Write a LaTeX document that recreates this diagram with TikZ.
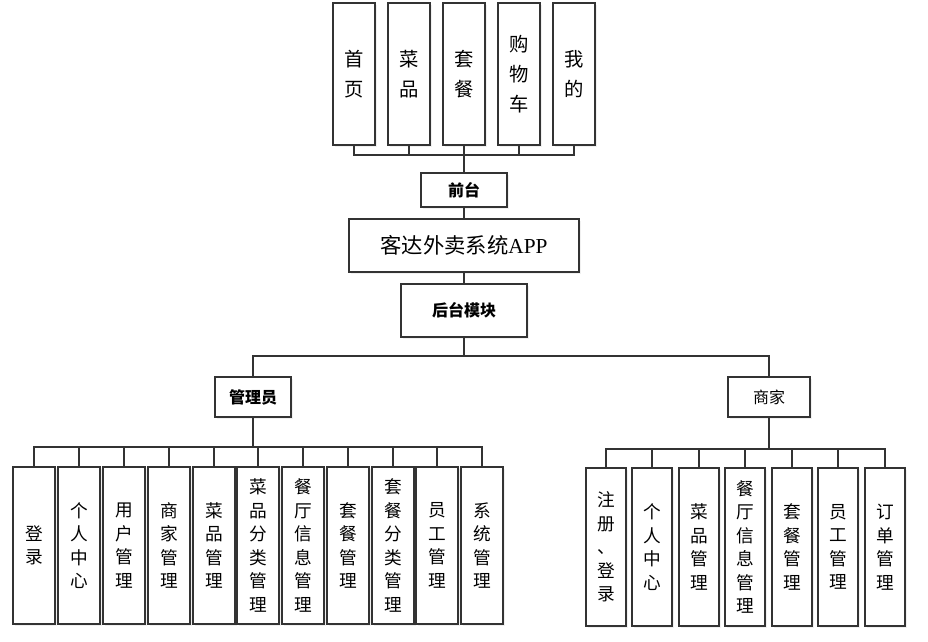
\documentclass[tikz,border=0pt]{standalone}
\usepackage{fontspec}
\newfontfamily\cjk{Noto Sans CJK SC}
\newfontfamily\lserif{Liberation Serif}
\usetikzlibrary{shadows}
\begin{document}
\begin{tikzpicture}[x=0.75pt,y=-0.75pt,
  box/.style={draw=black!80,line width=1pt,fill=white,inner sep=0pt,align=center,
    drop shadow={shadow xshift=1.2pt,shadow yshift=-1.2pt,opacity=0.12}},
  topbox/.style={box,minimum width=31.5pt,minimum height=106.5pt,font=\cjk\fontsize{14.5}{22.5}\selectfont},
  abox/.style={box,minimum width=31.5pt,minimum height=117.75pt,font=\cjk\fontsize{13.25}{17.6}\selectfont},
  mbox/.style={box,minimum width=30pt,minimum height=118.5pt,font=\cjk\fontsize{13.25}{17.6}\selectfont},
  conn/.style={draw=black!80,line width=1.1pt}]
\useasboundingbox (0,0) rectangle (928,642);
% top
\node[topbox] (t1) at (354,74) {首\\页};
\node[topbox] (t2) at (409,74) {菜\\品};
\node[topbox] (t3) at (464,74) {套\\餐};
\node[topbox] (t4) at (519,74) {购\\物\\车};
\node[topbox] (t5) at (574,74) {我\\的};
\node[box,minimum width=64.5pt,minimum height=25.5pt,font=\cjk\bfseries\fontsize{12}{14}\selectfont] (qt) at (464,190) {前台};
\node[box,minimum width=172.5pt,minimum height=39.75pt,font=\cjk\fontsize{16}{18}\selectfont] (app) at (464,245.5) {客达外卖系统{\lserif APP}};
\node[box,minimum width=94.5pt,minimum height=39.75pt,font=\cjk\bfseries\fontsize{12}{14}\selectfont] (ht) at (464,310.5) {后台模块};
\node[box,minimum width=57pt,minimum height=30pt,font=\cjk\bfseries\fontsize{12}{14}\selectfont] (gly) at (253,397) {管理员};
\node[box,minimum width=61.5pt,minimum height=30pt,font=\cjk\fontsize{12}{14}\selectfont] (sj) at (769,397) {商家};
% admin
\node[abox] (a1) at (34,545.5) {登\\录};
\node[abox] (a2) at (79,545.5) {个\\人\\中\\心};
\node[abox] (a3) at (124,545.5) {用\\户\\管\\理};
\node[abox] (a4) at (169,545.5) {商\\家\\管\\理};
\node[abox] (a5) at (214,545.5) {菜\\品\\管\\理};
\node[abox] (a6) at (258,545.5) {菜\\品\\分\\类\\管\\理};
\node[abox] (a7) at (303,545.5) {餐\\厅\\信\\息\\管\\理};
\node[abox] (a8) at (348,545.5) {套\\餐\\管\\理};
\node[abox] (a9) at (393,545.5) {套\\餐\\分\\类\\管\\理};
\node[abox] (a10) at (437,545.5) {员\\工\\管\\理};
\node[abox] (a11) at (482,545.5) {系\\统\\管\\理};
% merchant
\node[mbox] (m1) at (606,547) {注\\册\\、\\登\\录};
\node[mbox] (m2) at (652,547) {个\\人\\中\\心};
\node[mbox] (m3) at (699,547) {菜\\品\\管\\理};
\node[mbox] (m4) at (745,547) {餐\\厅\\信\\息\\管\\理};
\node[mbox] (m5) at (792,547) {套\\餐\\管\\理};
\node[mbox] (m6) at (838,547) {员\\工\\管\\理};
\node[mbox] (m7) at (885,547) {订\\单\\管\\理};
% bus coordinates
\coordinate (bt) at (464,155);
\coordinate (bm) at (464,356);
\coordinate (ba) at (253,447);
\coordinate (bs) at (769,449);
% connectors
\foreach \n in {t1,t2,t3,t4,t5}{\draw[conn] (\n.south) |- (bt);}
\draw[conn] (bt) -- (qt.north);
\draw[conn] (qt.south) -- (app.north);
\draw[conn] (app.south) -- (ht.north);
\draw[conn] (ht.south) -- (bm);
\draw[conn] (gly.north) |- (bm) -| (sj.north);
\draw[conn] (gly.south) -- (ba);
\draw[conn] (sj.south) -- (bs);
\foreach \n in {a1,a2,a3,a4,a5,a6,a7,a8,a9,a10,a11}{\draw[conn] (\n.north) |- (ba);}
\foreach \n in {m1,m2,m3,m4,m5,m6,m7}{\draw[conn] (\n.north) |- (bs);}
\end{tikzpicture}
\end{document}
